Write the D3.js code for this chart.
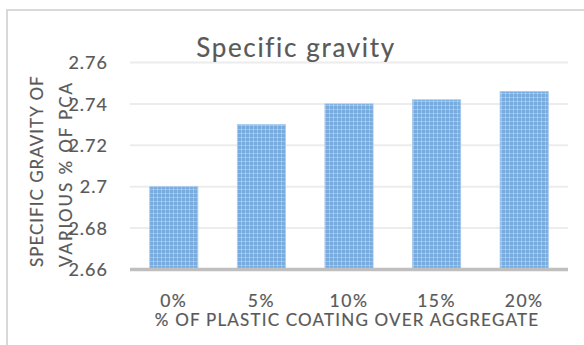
<!DOCTYPE html>
<html><head><meta charset="utf-8">
<script src="https://cdn.jsdelivr.net/npm/d3@7"></script>
<style>
html,body{margin:0;padding:0;background:#fff;}
text{font-family:Lato,"Open Sans",sans-serif;fill:#595959;stroke:#595959;stroke-width:0.2px;}
</style></head>
<body>
<svg id="chart" width="584" height="345"></svg>
<script>
const categories = ["0%","5%","10%","15%","20%"];
const values = [2.70, 2.73, 2.74, 2.742, 2.746];
const yTicks = [2.66, 2.68, 2.70, 2.72, 2.74, 2.76];
const yTickLabels = ["2.66","2.68","2.7","2.72","2.74","2.76"];
const title = "Specific gravity";
const xTitle = "% OF PLASTIC COATING OVER AGGREGATE";
const yTitleLines = ["SPECIFIC GRAVITY OF","VARIOUS % OF PCA"];

const svg = d3.select("#chart");
const defs = svg.append("defs");
const pat = defs.append("pattern").attr("id","grid").attr("patternUnits","userSpaceOnUse")
  .attr("width",4).attr("height",4);
pat.append("rect").attr("width",4).attr("height",4).attr("fill","#78acdf");
pat.append("rect").attr("x",0).attr("y",1).attr("width",4).attr("height",1).attr("fill","#98c0ea");
pat.append("rect").attr("x",1).attr("y",0).attr("width",1).attr("height",4).attr("fill","#98c0ea");
pat.append("rect").attr("x",1).attr("y",1).attr("width",1).attr("height",1).attr("fill","#bcd7f2");

// chart frame
svg.append("rect").attr("x",7).attr("y",10).attr("width",600).attr("height",360)
  .attr("fill","none").attr("stroke","#d9d9d9").attr("stroke-width",2);

const x = d3.scaleBand().domain(categories).range([130,568]).paddingInner(0.45).paddingOuter(0.225);
const y = d3.scaleLinear().domain([2.66,2.76]).range([269.5,62.5]);

// gridlines
svg.append("g").selectAll("line").data(yTicks.slice(1)).join("line")
  .attr("x1",130).attr("x2",568).attr("y1",d=>y(d)).attr("y2",d=>y(d))
  .attr("stroke","#ececec").attr("stroke-width",2);

// bars
svg.append("g").selectAll("rect").data(values).join("rect")
  .attr("x",(d,i)=>x(categories[i])).attr("width",x.bandwidth())
  .attr("y",d=>y(d)).attr("height",d=>y(2.66)-y(d))
  .attr("fill","url(#grid)").attr("stroke","#a6c9ee").attr("stroke-width",0.8);

// y axis
const yAxis = d3.axisLeft(y).tickValues(yTicks).tickFormat((d,i)=>yTickLabels[i]).tickSize(0).tickPadding(0);
const gy = svg.append("g").attr("transform","translate(108,0)").call(yAxis);
gy.select(".domain").remove();
gy.selectAll("text").attr("font-size",18).attr("letter-spacing",1).attr("dy","0.34em")
  .style("font-family","Lato").attr("fill","#595959");

// x axis
const xAxis = d3.axisBottom(x).tickSize(0).tickPadding(0);
const gx = svg.append("g").attr("transform","translate(0,269.5)").call(xAxis);
gx.select(".domain").remove();
gx.selectAll("text").attr("font-size",17.5).attr("letter-spacing",1.5).attr("dy",0).attr("y",37)
  .style("font-family","Lato").attr("fill","#595959");

// axis line
svg.append("line").attr("x1",130).attr("x2",568).attr("y1",y(2.66)).attr("y2",y(2.66))
  .attr("stroke","#bfbfbf").attr("stroke-width",3.5);

// title
svg.append("text").attr("x",296).attr("y",57).attr("text-anchor","middle")
  .attr("font-size",26).attr("letter-spacing",1.65).text(title);

// x title
svg.append("text").attr("x",347).attr("y",325.5).attr("text-anchor","middle")
  .attr("font-size",17).attr("letter-spacing",1.2).text(xTitle);

// y title
const ySpacing = [1.0, 1.9];
yTitleLines.forEach((t,i)=>{
  svg.append("text").attr("transform",`translate(${43 + i*29},267) rotate(-90)`)
    .attr("text-anchor","start").attr("font-size",17).attr("letter-spacing",ySpacing[i]).text(t);
});
</script>
</body></html>
